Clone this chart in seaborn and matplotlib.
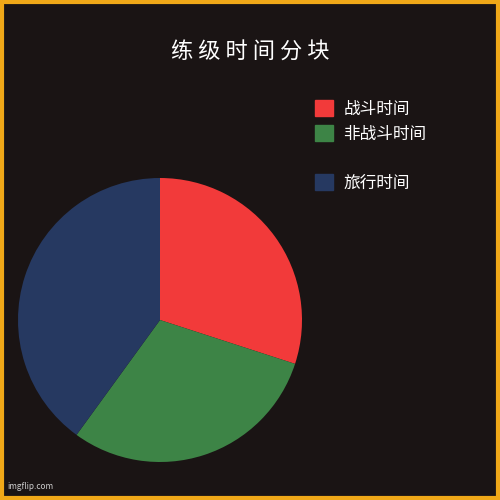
import matplotlib.pyplot as plt
import seaborn as sns
from matplotlib.patches import Patch, Rectangle

sns.set_theme(style="dark")
plt.rcParams['font.family'] = ['Noto Sans CJK SC', 'DejaVu Sans']

labels = ["战斗时间", "非战斗时间", "旅行时间"]
values = [30, 30, 40]
colors = ["#f23a3a", "#3d8446", "#263961"]

fig = plt.figure(figsize=(5, 5), dpi=100)
fig.patch.set_facecolor("#1a1414")
fig.patches.append(Rectangle((0.004, 0.004), 0.992, 0.992, transform=fig.transFigure,
                             fill=False, edgecolor="#f0a818", linewidth=3))

ax = fig.add_axes([0.036, 0.076, 0.568, 0.568])
ax.set_facecolor("#1a1414")
ax.pie(values, colors=colors, startangle=90, counterclock=False,
       wedgeprops={"linewidth": 0})
ax.set_xlim(-1, 1)
ax.set_ylim(-1, 1)
ax.set_aspect("equal")

fig.text(0.5, 0.895, "练 级 时 间 分 块", color="white", fontsize=16, ha="center", va="center")

handles = [Patch(color=colors[0], label=labels[0]),
           Patch(color=colors[1], label=labels[1]),
           Patch(color="none", label=" "),
           Patch(color=colors[2], label=labels[2])]
leg = fig.legend(handles=handles, loc="upper left", bbox_to_anchor=(0.6, 0.83),
                 frameon=False, labelcolor="white", fontsize=12,
                 handlelength=1.1, handleheight=1.1, labelspacing=0.45, handletextpad=0.6)
leg.texts[2].set_fontsize(7)

fig.text(0.015, 0.022, "imgflip.com", color="#cccccc", fontsize=6)

fig.savefig("out.png", dpi=100, facecolor=fig.get_facecolor())
